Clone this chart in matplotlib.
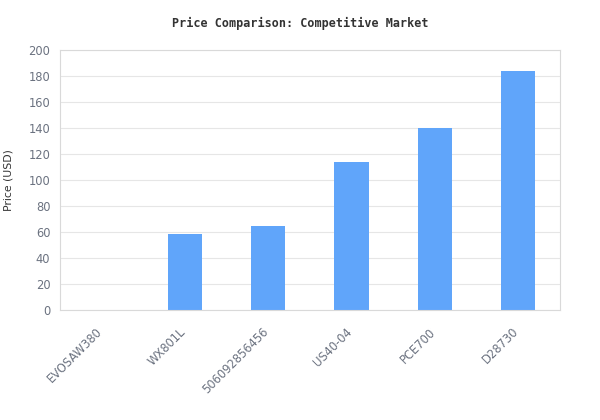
import matplotlib
matplotlib.use("Agg")
import matplotlib.pyplot as plt
from matplotlib.transforms import ScaledTranslation

products = ["EVOSAW380", "WX801L", "506092856456", "US40-04", "PCE700", "D28730"]
prices = [0, 58.5, 64.8, 114, 140, 184]

fig = plt.figure(figsize=(6, 4.2), dpi=100)
ax = fig.add_axes([0.1, 0.262, 0.833, 0.619])

ax.bar(range(len(products)), prices, width=0.41, color="#60a5fa", zorder=2)

ax.set_xlim(-0.5, len(products) - 0.5)
ax.set_ylim(0, 200)
ax.set_yticks(range(0, 201, 20))
ax.set_xticks(range(len(products)))
ax.set_xticklabels(products, rotation=45, ha="right", rotation_mode="anchor")
ax.tick_params(length=0, labelsize=8.3, colors="#6b7280")
ax.tick_params(axis="y", pad=7)
ax.tick_params(axis="x", pad=11)
shift = ScaledTranslation(-6 / 100, 0, fig.dpi_scale_trans)
for lab in ax.get_xticklabels():
    lab.set_transform(lab.get_transform() + shift)
ax.grid(axis="y", color="#e6e6e6", lw=0.8, zorder=0)
for s in ax.spines.values():
    s.set_color("#d9d9d9")
ax.set_ylabel("Price (USD)", fontsize=7.8, color="#333333", labelpad=11)

fig.text(0.5, 0.945, "Price Comparison: Competitive Market", ha="center", va="center",
         fontsize=8.5, fontweight="bold", family="DejaVu Sans Mono", color="#333333")

fig.savefig("out.png", dpi=100, facecolor="white")
